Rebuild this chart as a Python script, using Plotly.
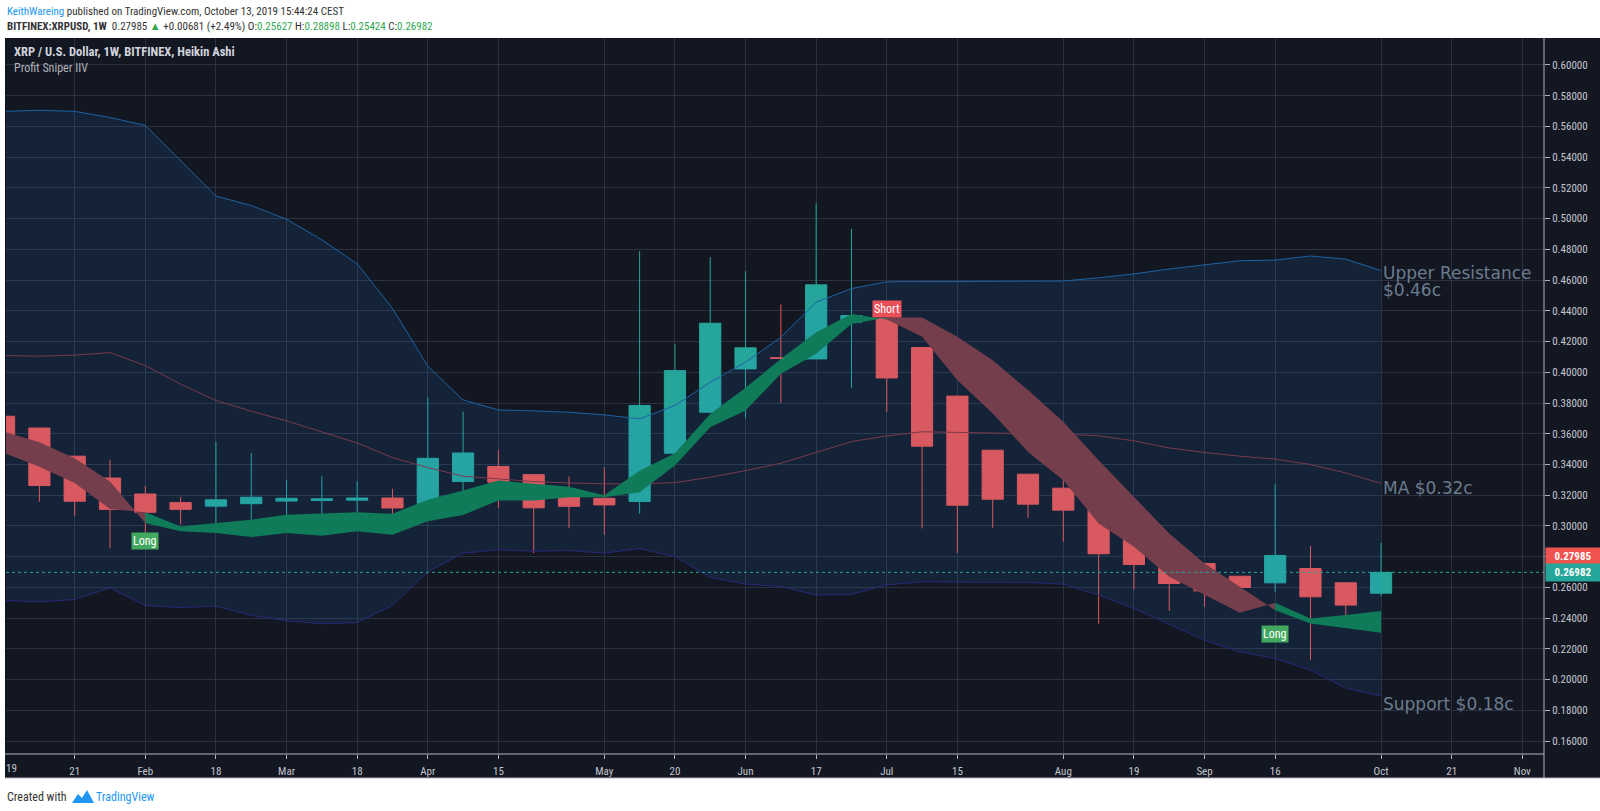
import plotly.graph_objects as go
import pandas as pd

# ---------------- data ----------------
weeks = pd.date_range("2019-01-07", periods=40, freq="7D")

ha_open = [0.3714, 0.3637, 0.3454, 0.3312, 0.3208, 0.3152, 0.3129, 0.3145, 0.3162, 0.3166,
           0.3168, 0.3182, 0.3147, 0.3289, 0.3387, 0.3334, 0.3230, 0.3180, 0.3159, 0.3473,
           0.3740, 0.4022, 0.4095, 0.4087, 0.4326, 0.4350, 0.4161, 0.3845, 0.3493, 0.3337,
           0.3246, 0.3177, 0.2999, 0.2882, 0.2756, 0.2673, 0.2630, 0.2723, 0.2630, 0.25627]
ha_high = [0.3714, 0.3637, 0.3454, 0.3431, 0.3261, 0.3189, 0.3547, 0.3475, 0.3301, 0.3324,
           0.3291, 0.3242, 0.3836, 0.3744, 0.3495, 0.3338, 0.3322, 0.3382, 0.4788, 0.4185,
           0.4749, 0.4658, 0.4441, 0.5100, 0.4933, 0.4350, 0.4161, 0.3845, 0.3493, 0.3337,
           0.3320, 0.3177, 0.2999, 0.2882, 0.2756, 0.2673, 0.3272, 0.2869, 0.2630, 0.28898]
ha_low = [0.3549, 0.3157, 0.3068, 0.2855, 0.2906, 0.3010, 0.3000, 0.3040, 0.3050, 0.2952,
          0.3080, 0.2987, 0.3125, 0.3176, 0.3118, 0.2823, 0.2985, 0.2942, 0.3079, 0.3473,
          0.3740, 0.3701, 0.3801, 0.4087, 0.3898, 0.3742, 0.2984, 0.2825, 0.2988, 0.3053,
          0.2897, 0.2365, 0.2587, 0.2448, 0.2474, 0.2513, 0.2571, 0.2127, 0.2365, 0.25424]
ha_close = [0.3549, 0.3263, 0.3161, 0.3108, 0.3089, 0.3108, 0.3170, 0.3187, 0.3180, 0.3177,
            0.3182, 0.3117, 0.3440, 0.3475, 0.3285, 0.3118, 0.3128, 0.3137, 0.3784, 0.4011,
            0.4319, 0.4159, 0.4090, 0.4569, 0.4369, 0.3963, 0.3519, 0.3135, 0.3174, 0.3142,
            0.3103, 0.2819, 0.2749, 0.2626, 0.2578, 0.2600, 0.2808, 0.2539, 0.2485, 0.26982]

band_upper = [0.5698, 0.5705, 0.5698, 0.5658, 0.5607, 0.5380, 0.5147, 0.5085, 0.4996, 0.4862,
              0.4706, 0.4416, 0.4040, 0.3820, 0.3755, 0.3749, 0.3740, 0.3723, 0.3697, 0.3784,
              0.3935, 0.4066, 0.4228, 0.4456, 0.4545, 0.4589, 0.4590, 0.4590, 0.4591, 0.4592,
              0.4594, 0.4615, 0.4640, 0.4672, 0.4700, 0.4726, 0.4730, 0.4757, 0.4736, 0.4662]
band_mid = [0.4109, 0.4105, 0.4112, 0.4128, 0.4044, 0.3923, 0.3816, 0.3747, 0.3684, 0.3610,
            0.3540, 0.3445, 0.3380, 0.3324, 0.3306, 0.3289, 0.3280, 0.3274, 0.3274, 0.3282,
            0.3317, 0.3360, 0.3408, 0.3480, 0.3549, 0.3586, 0.3613, 0.3609, 0.3606, 0.3602,
            0.3597, 0.3587, 0.3554, 0.3508, 0.3478, 0.3454, 0.3435, 0.3400, 0.3345, 0.3277]
band_lower = [0.2515, 0.2506, 0.2522, 0.2597, 0.2483, 0.2469, 0.2478, 0.2418, 0.2383, 0.2364,
              0.2371, 0.2483, 0.2701, 0.2823, 0.2845, 0.2836, 0.2840, 0.2823, 0.2853, 0.2801,
              0.2665, 0.2622, 0.2606, 0.2550, 0.2555, 0.2617, 0.2636, 0.2636, 0.2636, 0.2632,
              0.2621, 0.2550, 0.2463, 0.2359, 0.2257, 0.2181, 0.2138, 0.2062, 0.1945, 0.1893]

ribbon_fast = [0.3475, 0.3385, 0.3280, 0.3110, 0.3089, 0.2997, 0.3019, 0.3041, 0.3073, 0.3080,
               0.3089, 0.3080, 0.3170, 0.3230, 0.3296, 0.3274, 0.3256, 0.3200, 0.3360, 0.3473,
               0.3729, 0.3900, 0.4087, 0.4261, 0.4380, 0.4344, 0.4231, 0.3949, 0.3732, 0.3482,
               0.3298, 0.3016, 0.2864, 0.2669, 0.2550, 0.2435, 0.2500, 0.2398, 0.2420, 0.2446]
ribbon_slow = [0.3614, 0.3545, 0.3440, 0.3290, 0.3019, 0.2965, 0.2954, 0.2928, 0.2954, 0.2937,
               0.2965, 0.2943, 0.3030, 0.3072, 0.3165, 0.3165, 0.3187, 0.3187, 0.3220, 0.3393,
               0.3643, 0.3751, 0.3990, 0.4120, 0.4315, 0.4357, 0.4357, 0.4231, 0.4079, 0.3884,
               0.3678, 0.3428, 0.3190, 0.2951, 0.2756, 0.2604, 0.2452, 0.2365, 0.2333, 0.2305]

signal_dates = ["2019-02-04", "2019-07-01", "2019-09-16"]
signal_text = ["Long", "Short", "Long"]
signal_price = [0.2902, 0.4415, 0.2297]

last_price = 0.27985
ha_last_close = 0.26982

x_tick_dates = ["2019-01-21", "2019-02-04", "2019-02-18", "2019-03-04", "2019-03-18",
                "2019-04-01", "2019-04-15", "2019-05-06", "2019-05-20", "2019-06-03",
                "2019-06-17", "2019-07-01", "2019-07-15", "2019-08-05", "2019-08-19",
                "2019-09-02", "2019-09-16", "2019-10-07", "2019-10-21", "2019-11-04"]
x_tick_text = ["21", "Feb", "18", "Mar", "18", "Apr", "15", "May", "20", "Jun",
               "17", "Jul", "15", "Aug", "19", "Sep", "16", "Oct", "21", "Nov"]
y_tick_vals = [0.16, 0.18, 0.20, 0.22, 0.24, 0.26, 0.28, 0.30, 0.32, 0.34, 0.36, 0.38,
               0.40, 0.42, 0.44, 0.46, 0.48, 0.50, 0.52, 0.54, 0.56, 0.58, 0.60]

right_notes = [("Upper Resistance", 0.4648), ("$0.46c", 0.4536),
               ("MA $0.32c", 0.3245), ("Support $0.18c", 0.1842)]

# ---------------- layout constants ----------------
W, H = 1600, 811
ML, MR, MT, MB = 6, 56, 38, 57
PW, PH = W - ML - MR, H - MT - MB
BG = "#131722"
GRID = "#2c3040"
AXTXT = "#c3c6ce"
NARROW = ("Roboto Condensed, PT Sans Narrow, Liberation Sans Narrow, Arial Narrow, "
          "Open Sans Condensed, sans-serif")
TEAL, RED = "#26a69a", "#ef5350"


def px_x(px):
    return (px - ML) / PW


def px_y(py):
    return (H - MB - py) / PH


x0 = weeks[0] + pd.Timedelta(days=0.38)
x1 = weeks[0] + pd.Timedelta(days=305.3)

fig = go.Figure()

# Bollinger-style band
fig.add_trace(go.Scatter(x=weeks, y=band_upper, mode="lines",
                         line=dict(color="#1d62a3", width=1), hoverinfo="skip"))
fig.add_trace(go.Scatter(x=weeks, y=band_lower, mode="lines", fill="tonexty",
                         fillcolor="rgba(33,150,243,0.10)",
                         line=dict(color="#2a2778", width=1), hoverinfo="skip"))
fig.add_trace(go.Scatter(x=weeks, y=band_mid, mode="lines",
                         line=dict(color="#7a3a4c", width=1), hoverinfo="skip"))

# ribbon fills, grouped in runs of the same colour
n = len(weeks)
runs = []
for s in range(n - 1):
    bull = ribbon_fast[s] > ribbon_slow[s]
    if runs and runs[-1][2] == bull:
        runs[-1][1] = s + 1
    else:
        runs.append([s, s + 1, bull])
for a, b, bull in runs:
    xs = list(weeks[a:b + 1]) + list(weeks[a:b + 1])[::-1]
    ys = list(ribbon_fast[a:b + 1]) + list(ribbon_slow[a:b + 1])[::-1]
    fig.add_trace(go.Scatter(x=xs, y=ys, mode="lines", fill="toself",
                             fillcolor="#0f7b58" if bull else "#753e4c",
                             line=dict(width=0), hoverinfo="skip"))

fig.add_trace(go.Candlestick(
    x=weeks, open=ha_open, high=ha_high, low=ha_low, close=ha_close,
    increasing=dict(line=dict(color=TEAL, width=1), fillcolor=TEAL),
    decreasing=dict(line=dict(color=RED, width=1), fillcolor=RED),
    hoverinfo="skip"))

shapes = [
    # dark chart panel
    dict(type="rect", xref="paper", yref="paper", x0=px_x(5), x1=px_x(1600),
         y0=px_y(778), y1=px_y(38), fillcolor=BG, line=dict(width=0), layer="below"),
    # last HA close line
    dict(type="line", xref="paper", yref="y", x0=0, x1=1, y0=ha_last_close, y1=ha_last_close,
         line=dict(color=TEAL, width=1, dash="dot")),
    # axis separators
    dict(type="line", xref="paper", yref="paper", x0=px_x(1544), x1=px_x(1544),
         y0=px_y(778), y1=px_y(38), line=dict(color="#b2b5be", width=1)),
    dict(type="line", xref="paper", yref="paper", x0=px_x(5), x1=px_x(1544),
         y0=px_y(754), y1=px_y(754), line=dict(color="#b2b5be", width=1)),
    dict(type="line", xref="paper", yref="paper", x0=px_x(5), x1=px_x(1600),
         y0=px_y(778), y1=px_y(778), line=dict(color="#b2b5be", width=1)),
]

# small TradingView logo
logo_pts = [(72, 803), (78, 794), (82, 798), (87, 790), (94, 803)]
path = "M " + " L ".join(f"{px_x(a)},{px_y(b)}" for a, b in logo_pts) + " Z"
shapes.append(dict(type="path", xref="paper", yref="paper", path=path,
                   fillcolor="#2196f3", line=dict(width=0)))

ann = []
hdr_font = dict(family=NARROW, size=11, color="#333333")
ann.append(dict(xref="paper", yref="paper", x=px_x(5), y=px_y(11), xanchor="left",
                yanchor="middle", showarrow=False, font=hdr_font,
                text='<span style="color:#2196f3">KeithWareing</span> published on '
                     'TradingView.com, October 13, 2019 15:44:24 CEST'))
g = "#2fa84f"
ann.append(dict(xref="paper", yref="paper", x=px_x(5), y=px_y(26), xanchor="left",
                yanchor="middle", showarrow=False, font=hdr_font,
                text=f'<b>BITFINEX:XRPUSD, 1W</b>  {last_price:.5f} <span style="color:{g}">▲</span>'
                     f' +0.00681 (+2.49%) O:<span style="color:{g}">{ha_open[-1]:.5f}</span>'
                     f' H:<span style="color:{g}">{ha_high[-1]:.5f}</span>'
                     f' L:<span style="color:{g}">{ha_low[-1]:.5f}</span>'
                     f' C:<span style="color:{g}">{ha_close[-1]:.5f}</span>'))
ann.append(dict(xref="paper", yref="paper", x=px_x(12), y=px_y(52), xanchor="left",
                yanchor="middle", showarrow=False,
                font=dict(family=NARROW, size=12.5, color="#d1d4dc"),
                text="<b>XRP / U.S. Dollar, 1W, BITFINEX, Heikin Ashi</b>"))
ann.append(dict(xref="paper", yref="paper", x=px_x(12), y=px_y(68), xanchor="left",
                yanchor="middle", showarrow=False,
                font=dict(family=NARROW, size=12, color="#b2b5be"),
                text="Profit Sniper IIV"))
ann.append(dict(xref="paper", yref="paper", x=px_x(5), y=px_y(797), xanchor="left",
                yanchor="middle", showarrow=False,
                font=dict(family=NARROW, size=12, color="#333333"), text="Created with"))
ann.append(dict(xref="paper", yref="paper", x=px_x(94), y=px_y(797), xanchor="left",
                yanchor="middle", showarrow=False,
                font=dict(family=NARROW, size=12, color="#2196f3"), text="TradingView"))
# partially hidden year label at the left edge
ann.append(dict(xref="paper", yref="paper", x=px_x(4), y=px_y(768), xanchor="left",
                yanchor="middle", showarrow=False,
                font=dict(family=NARROW, size=11, color=AXTXT), text="19"))

for d, t, p in zip(signal_dates, signal_text, signal_price):
    ann.append(dict(x=d, y=p, xref="x", yref="y", text=t, showarrow=False,
                    font=dict(family=NARROW, size=12, color="#ffffff"),
                    bgcolor="#e9505a" if t == "Short" else "#43a85f", borderpad=1))

for t, p in right_notes:
    ann.append(dict(x=weeks[-1], y=p, xref="x", yref="y", text=t, showarrow=False,
                    xanchor="left", yanchor="middle",
                    font=dict(family="DejaVu Sans", size=17, color="#6b7c8e")))

for val, col in [(last_price, RED), (ha_last_close, TEAL)]:
    ann.append(dict(xref="paper", yref="y", x=px_x(1545), y=val, xanchor="left",
                    yanchor="middle", showarrow=False, text=f"<b>{val:.5f}</b>",
                    bgcolor=col, width=50, align="center", borderpad=2,
                    font=dict(family=NARROW, size=11, color="#ffffff")))

fig.update_layout(
    width=W, height=H, margin=dict(l=ML, r=MR, t=MT, b=MB),
    paper_bgcolor="#ffffff", plot_bgcolor=BG, showlegend=False,
    boxgap=0.40, boxgroupgap=0,
    shapes=shapes, annotations=ann,
    xaxis=dict(type="date", range=[x0, x1], tickvals=x_tick_dates, ticktext=x_tick_text,
               showgrid=True, gridcolor=GRID, gridwidth=1, zeroline=False,
               ticks="outside", ticklen=4, tickcolor="#b2b5be", ticklabelstandoff=3,
               tickfont=dict(family=NARROW, size=11, color=AXTXT),
               rangeslider=dict(visible=False), showline=False, fixedrange=True),
    yaxis=dict(side="right", range=[0.15161, 0.61754], tickvals=y_tick_vals,
               tickformat=".5f", showgrid=True, gridcolor=GRID, gridwidth=1,
               zeroline=False, ticks="outside", ticklen=5, tickcolor="#b2b5be",
               tickfont=dict(family=NARROW, size=11, color=AXTXT), showline=False,
               fixedrange=True),
)

fig.write_html("out.html")
